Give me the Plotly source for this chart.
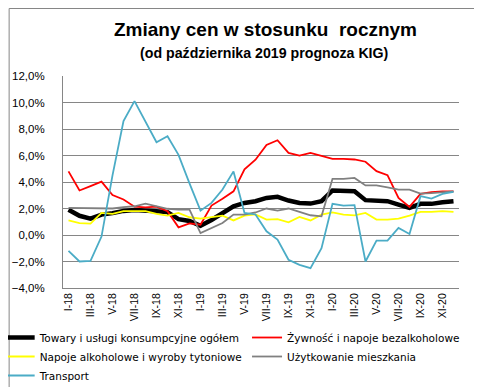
import plotly.graph_objects as go

roman = ["I", "II", "III", "IV", "V", "VI", "VII", "VIII", "IX", "X", "XI", "XII"]
months = [f"{r}-{y}" for y in ["18", "19", "20"] for r in roman]
tick_labels = months[::2]

towary = [1.9, 1.45, 1.24, 1.54, 1.65, 1.82, 1.88, 1.88, 1.8, 1.73, 1.2, 1.06, 0.7, 1.13, 1.63, 2.17, 2.42, 2.55,
          2.8, 2.88, 2.6, 2.42, 2.37, 2.55, 3.36, 3.36, 3.3, 2.63, 2.6, 2.55, 2.3, 2.05, 2.35, 2.35, 2.47, 2.55]
zywnosc = [4.8, 3.36, 3.69, 4.03, 3.02, 2.68, 2.14, 2.08, 2.14, 1.8, 0.58, 0.88, 0.78, 2.22, 2.73, 3.3, 4.95, 5.68,
           6.8, 7.15, 6.2, 6.0, 6.2, 6.0, 5.75, 5.75, 5.7, 5.53, 4.82, 4.52, 2.8, 2.12, 3.1, 3.23, 3.3, 3.3]
napoje = [1.1, 0.9, 0.86, 1.67, 1.6, 1.8, 1.8, 1.8, 1.6, 1.47, 1.67, 1.34, 1.24, 1.36, 1.46, 1.1, 1.46, 1.56,
          1.16, 1.2, 0.96, 1.36, 1.1, 1.54, 1.7, 1.54, 1.48, 1.67, 1.16, 1.16, 1.24, 1.46, 1.74, 1.74, 1.8, 1.74]
uzytkowanie = [2.05, 2.05, 2.0, 2.0, 2.0, 2.1, 2.17, 2.37, 2.17, 1.98, 1.92, 1.92, 0.15, 0.53, 0.9, 1.54, 1.54, 1.7,
               2.0, 1.84, 2.0, 1.74, 1.49, 1.41, 4.24, 4.24, 4.31, 3.74, 3.74, 3.6, 3.43, 3.43, 3.13, 3.16, 3.23, 3.3]
transport = [-1.2, -2.0, -1.95, -0.12, 4.5, 8.6, 10.1, 8.5, 7.0, 7.45, 6.05, 3.9, 1.84, 2.42, 3.43, 4.8, 1.67, 1.55,
             0.28, -0.35, -1.87, -2.25, -2.5, -1.0, 2.35, 2.22, 2.25, -2.0, -0.43, -0.43, 0.53, 0.08, 2.93, 2.75, 3.1, 3.26]

# name, values, colour, width, legend column
series = [
    ("Towary i usługi konsumpcyjne ogółem", towary, "#000000", 4.5, "legend"),
    ("Żywność i napoje bezalkoholowe", zywnosc, "#FF0000", 1.8, "legend2"),
    ("Napoje alkoholowe i wyroby tytoniowe", napoje, "#FFFF00", 1.8, "legend"),
    ("Użytkowanie mieszkania", uzytkowanie, "#808080", 1.8, "legend2"),
    ("Transport", transport, "#4BACC6", 1.8, "legend"),
]

fig = go.Figure()
for name, vals, color, w, lg in series:
    fig.add_trace(go.Scatter(x=months, y=vals, name=name, mode="lines", legend=lg,
                             line=dict(color=color, width=w)))

L, R, T, B = 54.5, 30.5, 68, 107
W, H = 482, 387
pw, ph = W - L - R, H - T - B

leg_common = dict(orientation="v", xref="paper", yref="paper", xanchor="left", yanchor="top",
                  font=dict(size=10.5, family="DejaVu Sans, Verdana, sans-serif"),
                  tracegroupgap=0, itemwidth=30, bgcolor="rgba(0,0,0,0)")
leg_top = 315

fig.update_layout(
    width=W, height=H,
    margin=dict(l=L, r=R, t=T, b=B, pad=0, autoexpand=False),
    paper_bgcolor="white", plot_bgcolor="white",
    separators=", ",
    font=dict(family="Liberation Sans, Arial, sans-serif", size=11, color="#000000"),
    showlegend=True,
    legend=dict(x=(-9 - L) / pw, y=-(leg_top - T - ph) / ph, **leg_common),
    legend2=dict(x=(239 - L) / pw, y=-(leg_top - T - ph) / ph, **leg_common),
    xaxis=dict(type="category", categoryorder="array", categoryarray=months,
               tickmode="array", tickvals=tick_labels, ticktext=tick_labels,
               tickangle=-90, tickfont=dict(size=10.5), showgrid=False, showline=True,
               linecolor="#868686", ticks="", range=[-0.5, len(months) - 0.5], zeroline=False),
    yaxis=dict(range=[-4, 12], dtick=2, tick0=0, tickformat=".1f", ticksuffix="%",
               showgrid=True, gridcolor="#868686", gridwidth=1, showline=True,
               linecolor="#868686", zeroline=False, ticks="", tickfont=dict(size=11.5),
               ticklabelstandoff=15),
    annotations=[
        dict(text="<b>Zmiany cen w stosunku  rocznym</b>", xref="paper", yref="paper",
             x=(258 - L) / pw, y=1 + (T - 22) / ph, xanchor="center", yanchor="middle",
             showarrow=False, font=dict(size=19, family="Liberation Sans, Arial, sans-serif")),
        dict(text="<b>(od października 2019 prognoza KIG)</b>", xref="paper", yref="paper",
             x=(257 - L) / pw, y=1 + (T - 45) / ph, xanchor="center", yanchor="middle",
             showarrow=False, font=dict(size=14.2, family="Liberation Sans, Arial, sans-serif")),
    ],
    shapes=[dict(type="rect", xref="paper", yref="paper",
                 x0=-(L - 0.5) / pw, x1=(W - 0.5 - L) / pw,
                 y0=-(B - 0.5) / ph, y1=1 + (T - 0.5) / ph,
                 line=dict(color="#868686", width=1), layer="below")],
)

fig.write_html("out.html")
